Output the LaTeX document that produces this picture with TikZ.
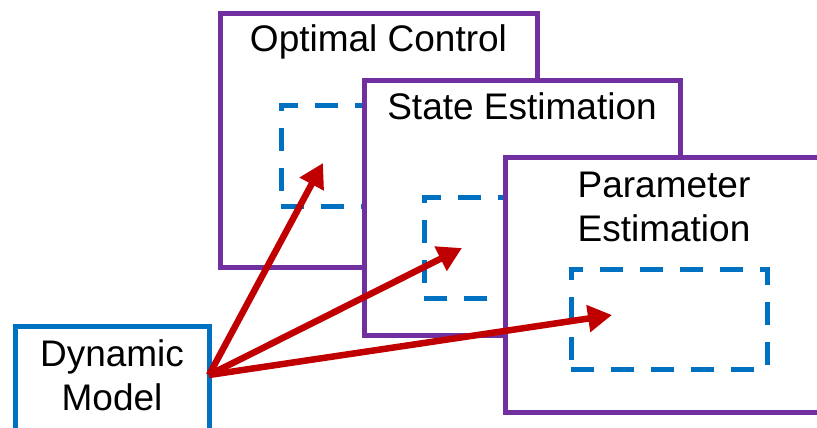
\documentclass[tikz,border=0pt]{standalone}
\usepackage{fontspec}
\setmainfont{Liberation Sans}
\usetikzlibrary{arrows.meta}
\definecolor{boxpurple}{HTML}{7030A0}
\definecolor{boxblue}{HTML}{0070C0}
\definecolor{arrowred}{HTML}{C00000}
\begin{document}
\begin{tikzpicture}[x=1pt,y=-1pt,
  panel/.style={draw=boxpurple, line width=5pt, fill=white, rectangle, inner sep=0pt, outer sep=0pt},
  innerbox/.style={draw=boxblue, line width=5pt, rectangle, inner sep=0pt, outer sep=0pt,
    dash pattern=on 23pt off 17pt, minimum width=198pt, minimum height=101pt},
  modelbox/.style={draw=boxblue, line width=5pt, fill=white, rectangle, inner sep=0pt, outer sep=0pt},
  boxtext/.style={font=\fontsize{37}{44}\selectfont, inner sep=0pt, align=center},
  flow/.style={draw=arrowred, line width=6.5pt, -{Triangle[length=24pt,width=26pt]}}
]
\useasboundingbox (0,0) rectangle (817,428);
\clip (0,0) rectangle (817,428);
% Optimal Control
\node[panel, minimum width=317pt, minimum height=253pt] (oc) at (378.5,140.5) {};
\node[boxtext, anchor=base] (octext) at (378.5,52) {Optimal Control};
\node[innerbox] (ocin) at (380,155.5) {};
% State Estimation
\node[panel, minimum width=316pt, minimum height=254pt] (se) at (522,208) {};
\node[boxtext, anchor=base] (setext) at (522,119) {State Estimation};
\node[innerbox] (sein) at (523,247.5) {};
% Parameter Estimation
\node[panel, minimum width=318pt, minimum height=255pt] (pe) at (664,284.5) {};
\node[boxtext, anchor=base] (petext) at (664,241) {Parameter\\Estimation};
\node[innerbox, minimum width=196pt, minimum height=100pt] (pein) at (669,319) {};
% Dynamic Model
\node[modelbox, minimum width=194pt, minimum height=114pt] (dm) at (112,383) {};
\node[boxtext, anchor=base] (dmtext) at (112,410) {Dynamic\\Model};
% arrows
\coordinate (src) at ([yshift=8pt]dm.east);
\coordinate (t1) at (323,163);
\coordinate (t2) at (462,248);
\coordinate (t3) at (612,315);
\draw[flow] (src) -- (t1);
\draw[flow] (src) -- (t2);
\draw[flow] (src) -- (t3);
\end{tikzpicture}
\end{document}
